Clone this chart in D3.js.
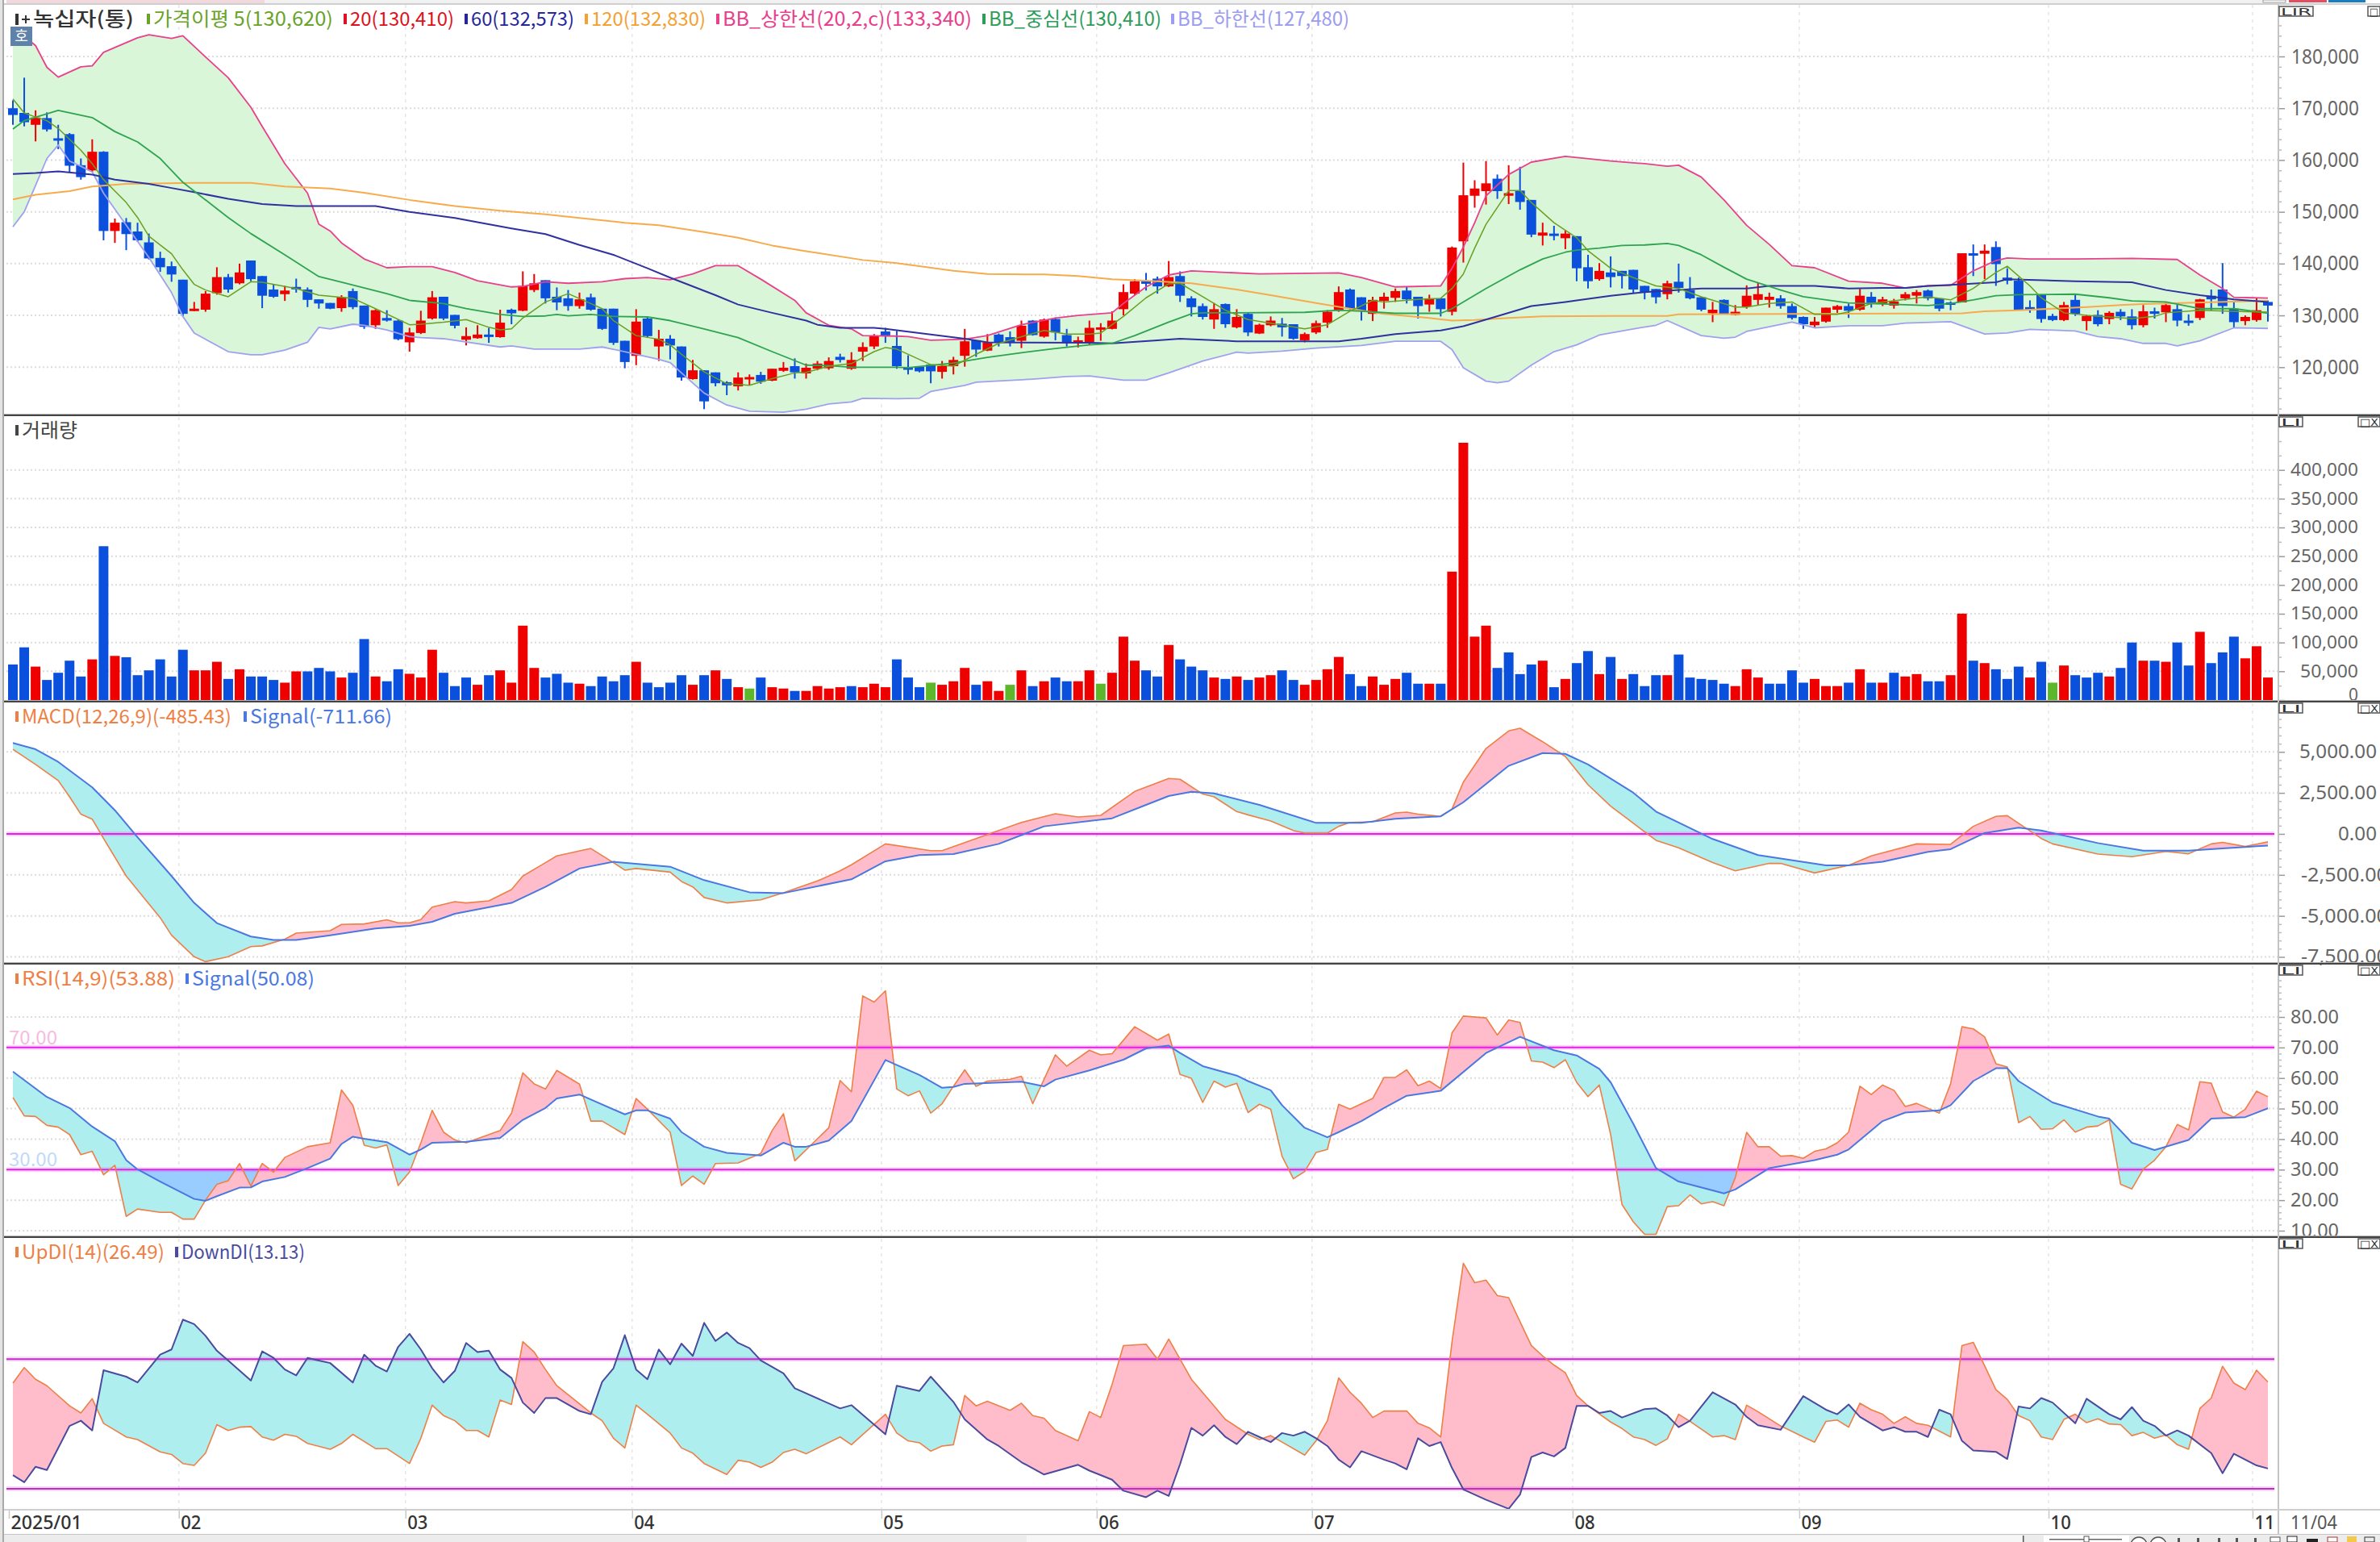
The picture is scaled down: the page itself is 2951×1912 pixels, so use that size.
<!DOCTYPE html>
<html>
<head>
<meta charset="utf-8">
<script src="https://cdnjs.cloudflare.com/ajax/libs/d3/7.8.5/d3.min.js"></script>
<style>
  html, body { margin: 0; padding: 0; background: #fff; overflow: hidden; }
  svg { display: block; }
  text { font-family: "Noto Sans CJK KR", "Noto Sans", sans-serif; }
</style>
</head>
<body>
<svg id="chart" width="2951" height="1912"></svg>
<script>
// candles, one value per trading day
const opens = [
  170000,169100,166800,168100,164200,165000,159000,158000,161600,146300,
  148000,146200,144100,141100,139500,136900,130900,131100,134300,137400,
  136200,140600,137600,135000,134100,135500,135000,133100,132400,131400,
  134700,131900,128100,129500,129000,124800,126600,129400,133600,130100,
  125300,125600,126300,125800,131100,130900,134900,136800,133600,133300,
  131800,133500,131300,131300,125100,122200,129400,124000,125500,124000,
  117700,119400,119000,117100,116300,118000,118500,117400,119300,120200,
  118800,119700,119800,122000,119700,123000,124000,126900,124100,120000,
  120100,120500,119100,120200,122200,125200,123200,126300,125800,125100,
  129000,125900,129300,126200,124700,124800,127500,127400,131200,134200,
  136600,137100,135600,137600,133300,131800,129200,132200,127700,130300,
  126500,128100,128400,128300,125200,126700,128600,130900,135000,133500,
  130300,132800,133400,134800,133600,132100,133300,130700,144300,153100,
  154000,156400,153100,154100,152300,145400,145800,144900,145300,139300,
  137000,138300,138600,138800,135700,135100,134100,136500,134900,133500,
  130400,133000,130100,131700,133000,133000,133300,131800,129700,128100,
  128800,131100,131800,131100,133600,132300,131900,133300,133800,134800,
  133300,132500,132500,142000,141900,143200,137300,136700,131600,134000,
  129900,129100,133000,128900,130100,129300,130700,129800,128100,130800,
  130600,131200,129000,129500,133800,135000,131300,128900,129100,132600];
const closes = [
  168700,167300,168200,165900,163800,158900,156700,161600,146300,147900,
  145700,144500,141000,139300,137900,130300,131300,134200,137400,135000,
  138300,137000,133800,133600,134800,135100,133000,132300,131300,133500,
  131600,127800,131000,129000,125400,126700,129000,133500,129400,128000,
  126000,126300,125900,128600,130400,135700,136200,133300,132500,131800,
  133100,131100,127400,124700,121000,128800,126000,125500,124200,118000,
  119400,113400,116900,116500,118000,118100,117200,119700,119900,119000,
  119900,120700,121200,121400,121400,123900,126100,126100,120200,119500,
  119200,119200,120200,121400,125000,123400,124800,124800,124800,128000,
  126200,129200,126700,124700,125200,127600,127700,129000,134500,136600,
  136100,135600,137400,133800,131600,129700,131200,128300,129700,126700,
  128200,129000,127700,125500,126400,128500,130700,134500,131300,130800,
  133000,133600,134700,133100,131800,133300,131200,143100,153200,154500,
  155500,154000,153600,151900,145600,146000,145400,145800,139100,136600,
  138600,137400,137600,135000,134500,133500,136200,135300,133300,131100,
  131100,130300,130700,133800,134100,133600,131800,129500,128300,128800,
  131500,131800,130900,133800,132400,133100,132700,134100,134500,133300,
  131300,132100,142000,141600,142500,139900,136700,131000,131100,129300,
  129100,132000,130300,129900,128300,130500,129800,128100,130800,130300,
  132000,129000,128700,133100,133100,131800,128700,129700,131000,131900];
const highs = [
  171500,175900,169600,169200,166800,165200,160300,164000,161700,148700,
  148800,147900,145800,142300,140400,136900,132600,134700,139300,138000,
  140000,140600,137600,136000,135700,137100,135400,133100,132400,133900,
  135200,131900,131200,131000,129200,127600,130900,134700,133600,130100,
  127700,128100,127600,131100,131300,138500,138000,136800,135400,134900,
  134400,134200,131300,131300,125100,131200,129600,127200,126200,124000,
  121400,119400,119000,117300,119000,118600,119100,119700,121000,121700,
  120700,121200,121900,122600,122900,124800,126400,127600,127000,122300,
  120100,120500,121200,122000,127400,125200,126400,126500,126900,129000,
  129100,129400,129600,127400,125900,129000,128500,130800,136000,137000,
  138200,137500,140500,138500,133700,132300,132400,132300,131200,130500,
  128400,129800,129500,128300,126700,129000,131000,135600,135200,133500,
  133600,134400,135200,135500,133600,134000,133300,143300,159500,156100,
  159800,157200,159000,158700,152300,147900,147300,146400,145300,141700,
  140100,141400,138600,138800,135700,135100,136700,140000,137400,133500,
  132600,133100,132000,135800,136300,134400,133900,132300,129800,129700,
  131500,132000,132300,135100,134500,133600,133200,134500,134900,135000,
  133300,132700,142000,143700,143700,144300,139100,137300,132900,134000,
  130300,132600,134000,130100,131000,130800,131200,131200,132000,131500,
  132500,132100,130200,133200,135000,140100,132600,130000,133400,132900];
const lows = [
  166800,166500,163600,165500,162100,157700,156200,157700,144500,144000,
  142600,144200,140800,138400,136500,129800,130800,130700,134000,134400,
  136000,136600,131400,133400,132800,134400,131600,131300,131200,130700,
  131200,127400,127400,128800,125200,123000,126400,129200,129100,127500,
  124200,125500,124700,125700,128300,130800,134500,132300,131000,130900,
  131300,130900,127200,124300,119800,120400,125700,121200,121500,117400,
  117600,111900,116300,114600,115500,116500,116800,117300,119100,117800,
  117800,119400,119500,120900,119500,121200,123500,124700,119700,118600,
  119000,116900,117800,118600,120100,122000,123100,124000,124000,123700,
  126100,125700,125200,124000,123800,124300,125100,127300,130000,133900,
  134800,134200,135500,132600,129800,129200,127400,127600,127500,126000,
  126400,127900,125900,125300,124800,126400,127600,130700,131000,129000,
  128900,131300,132600,132300,129400,130700,129800,130000,140200,150800,
  151400,152500,151500,150400,145100,143500,144500,142800,136600,135200,
  136700,135400,135200,134300,133100,132300,133100,134400,133100,130800,
  128700,130200,130000,131300,132000,131500,131300,129200,127400,127600,
  128600,130500,129500,130900,131500,131800,131300,132900,132300,132900,
  130800,131000,132500,137600,137000,135700,136000,131000,130500,128600,
  128900,128900,129900,127100,127900,128300,129100,127300,127700,129400,
  128700,127900,128000,129100,131000,130300,127600,128100,128800,128800];

// volume per day, and its direction code (1 up, -1 down, 0 flat)
const volumes = [
  61800,91600,58100,34900,47400,68400,40900,70700,267400,76700,
  74400,43200,51600,70700,40900,87400,51600,51600,66500,36700,
  53500,40900,40900,34900,30200,49800,49800,55800,49800,39100,
  47400,106000,40900,32600,53500,45600,39100,87400,47400,24200,
  39100,26500,43200,51600,30200,129300,55800,39100,45600,30200,
  28400,24200,40900,32600,43200,66500,30200,22300,30200,43200,
  26500,43200,51600,36700,22300,20000,39100,22300,20000,15800,
  15800,24200,20000,22300,24200,22300,28400,22300,70700,39100,
  22300,30200,26500,32600,55800,26500,32600,15800,26500,51600,
  24200,32600,39100,32600,32600,51600,28400,47400,110200,68400,
  51600,40900,95800,70700,58100,51600,39100,36700,40900,34900,
  39100,43200,51600,34900,26500,34900,53500,74900,45100,24200,
  40900,26500,36700,47400,28400,28400,28400,223200,447300,110200,
  129300,55800,82800,45100,61800,68400,22300,36700,64200,85100,
  45100,74900,36700,45100,24200,43200,43200,79100,39100,36700,
  34900,28400,24200,53500,39100,28400,28400,51600,30200,36700,
  24200,24200,30200,53500,30200,30200,47400,40900,45100,32600,
  32600,43200,150200,68400,64200,53500,36700,58100,39100,66500,
  30200,60000,43200,39100,47400,40900,55800,100000,68400,68400,
  66500,100000,60000,118600,64200,82800,110200,72500,93500,39100];
const volumeMoves = [
  -1,-1,1,-1,-1,-1,-1,1,-1,1,  -1,-1,-1,-1,-1,-1,1,1,1,-1,
  1,-1,-1,-1,1,1,-1,-1,-1,1,  -1,-1,1,-1,-1,1,1,1,-1,-1,
  -1,1,-1,1,1,1,1,-1,-1,-1,  1,-1,-1,-1,-1,1,-1,-1,-1,-1,
  1,-1,1,-1,1,0,-1,1,1,-1,  1,1,1,1,-1,1,1,1,-1,-1,
  -1,0,1,1,1,-1,1,1,0,1,  -1,1,-1,-1,1,1,0,1,1,1,
  -1,-1,1,-1,-1,-1,1,-1,1,-1,  1,1,-1,-1,1,1,1,1,-1,-1,
  1,1,1,-1,-1,1,-1,1,1,1,  1,-1,-1,-1,-1,1,-1,1,-1,-1,
  1,-1,1,-1,-1,-1,1,-1,-1,-1,  -1,-1,1,1,1,-1,-1,-1,-1,1,
  1,1,-1,1,-1,1,-1,1,1,-1,  -1,1,1,-1,1,-1,-1,-1,1,-1,
  0,1,-1,-1,-1,1,-1,-1,1,-1,  1,-1,-1,1,-1,-1,-1,1,1,1];

// line series as [bar, value], vertices
const bbUpper = [[0,185400],[1,183900],[2,182100],[3,177900],[4,176000],[6,178000],[7,178200],[8,180800],[11,183600],[12,184200],[14,183500],[15,184000],[17,179900],[19,175900],[21,170200],[22,166500],[24,159300],[26,153600],[27,147600],[28,146300],[29,144000],[31,140900],[33,139200],[35,139400],[37,139400],[39,138300],[41,136700],[44,135500],[45,135600],[47,136500],[49,136200],[52,136500],[54,137100],[56,137300],[58,136900],[60,138000],[62,139600],[64,139600],[66,137000],[69,132900],[70,130500],[72,128100],[74,127400],[75,126100],[78,126000],[79,125900],[81,125200],[84,125400],[86,126100],[89,128200],[92,129500],[94,130000],[97,130500],[98,132300],[100,135500],[102,137800],[104,138600],[110,138000],[117,138200],[119,137300],[122,135500],[126,135700],[127,139100],[128,143200],[129,147900],[130,153100],[132,157200],[134,159600],[137,160700],[141,159800],[144,159300],[146,158800],[147,159000],[149,156700],[151,152300],[153,147400],[155,143700],[157,139600],[159,139200],[162,136600],[165,136200],[167,135300],[169,135700],[171,135800],[173,138600],[175,140600],[176,141100],[178,140900],[182,140900],[187,141000],[191,140800],[193,137800],[195,135200],[196,133500],[199,133340]];
const bbMiddle = [[0,166000],[1,167600],[4,169600],[5,169100],[7,168200],[9,165500],[11,163500],[13,160300],[15,155700],[19,148900],[21,145800],[24,141700],[27,137500],[29,136400],[33,134200],[35,132900],[38,132300],[40,131300],[43,130200],[45,129800],[47,129900],[48,130200],[49,129900],[51,130200],[53,129800],[56,129700],[58,129000],[61,127400],[64,125700],[67,123000],[70,120400],[72,120300],[74,120000],[78,120000],[79,119900],[83,120800],[86,121900],[89,122800],[92,123600],[95,124300],[97,124600],[99,126100],[102,128700],[104,130300],[105,130500],[108,130500],[114,130600],[117,131000],[119,130800],[122,130400],[126,130400],[127,131300],[130,135200],[133,138800],[135,140900],[137,142200],[138,142600],[140,143000],[142,143500],[144,143600],[146,143900],[147,143500],[149,141700],[151,139300],[153,137000],[156,134900],[158,133600],[162,132400],[165,132200],[169,131900],[171,132300],[173,133000],[175,133800],[177,134000],[182,134100],[185,133400],[187,132800],[190,132600],[193,131300],[196,131300],[199,130410]];
const bbLower = [[0,147100],[1,150000],[2,155100],[3,160300],[4,162900],[5,159800],[6,158800],[7,157700],[8,153600],[10,147400],[12,141200],[14,134400],[15,129800],[16,126600],[19,123000],[21,122400],[22,122400],[24,123300],[26,124800],[27,127700],[28,127400],[30,128300],[31,128100],[33,127200],[35,125900],[36,125700],[38,125500],[43,123900],[44,124100],[46,123500],[50,123500],[52,123900],[54,123000],[57,121500],[58,120900],[59,118900],[61,115000],[63,112700],[65,111500],[68,111300],[70,111900],[72,112900],[74,113300],[75,114000],[78,113900],[80,114000],[81,115300],[84,116500],[85,117100],[90,117700],[93,118200],[95,118300],[98,117500],[100,117500],[102,118900],[105,121200],[108,122900],[109,122700],[112,123100],[115,123700],[119,124200],[122,125000],[126,125000],[127,123400],[128,119900],[130,117300],[131,117000],[132,117300],[134,120400],[136,123000],[138,124300],[140,126200],[143,127400],[145,128100],[146,129000],[149,126100],[151,125600],[152,125800],[153,126900],[157,128700],[159,127600],[162,128000],[165,128000],[167,128500],[171,128800],[174,126400],[176,126600],[178,127300],[182,127000],[184,125900],[186,125500],[188,124600],[190,124600],[191,124100],[193,125100],[196,127600],[199,127480]];
const ma5 = [[0,171800],[1,169100],[2,168300],[3,167600],[4,166100],[6,161900],[7,159300],[8,156200],[10,151800],[11,148900],[12,145300],[14,141900],[15,138800],[16,136000],[17,134900],[19,133600],[21,136500],[22,136400],[25,135200],[27,133900],[30,133300],[32,131300],[35,128200],[36,128300],[38,128700],[40,129200],[42,127700],[43,127200],[44,127400],[45,129500],[47,132600],[49,134200],[51,132300],[52,131300],[53,129000],[55,126100],[57,125400],[58,124300],[59,122500],[61,119100],[63,116800],[65,116500],[67,117800],[69,118900],[70,119000],[72,120200],[74,120700],[76,123000],[77,123800],[78,123500],[81,120500],[83,120200],[85,122500],[87,124600],[89,125900],[91,127100],[93,126400],[95,126400],[96,126600],[98,129800],[100,133400],[102,136100],[103,136200],[105,133600],[107,131000],[109,129200],[111,128500],[114,127400],[116,128200],[118,130800],[120,132900],[121,132600],[124,133100],[126,133300],[127,135200],[128,138000],[129,143000],[130,147600],[132,154100],[133,154100],[134,151800],[136,147900],[138,145000],[139,142500],[141,139100],[143,137300],[145,135700],[147,135200],[149,133600],[152,131600],[153,131600],[155,132300],[157,132600],[159,130200],[161,130200],[162,130700],[164,132300],[167,133100],[169,133600],[171,133000],[173,135200],[175,138300],[176,139500],[178,135700],[179,133400],[181,130500],[183,130000],[187,129400],[189,129800],[190,130500],[193,131000],[196,130800],[199,130620]];
const ma60 = [[0,157300],[2,157500],[4,157800],[7,157200],[9,156200],[12,155400],[14,154600],[16,153800],[19,152500],[22,151500],[25,151100],[32,151100],[35,150000],[39,148800],[41,148000],[44,146800],[47,145700],[50,143600],[53,141700],[56,139100],[58,137300],[62,133900],[64,132100],[67,130500],[70,129000],[71,128200],[73,127600],[76,127600],[77,127400],[80,126600],[84,125500],[86,124800],[95,124700],[97,124600],[101,125200],[103,125500],[108,125000],[117,125000],[119,125500],[122,126400],[126,127100],[128,127900],[130,129200],[134,131800],[137,132600],[138,132900],[141,133800],[144,134500],[149,135200],[153,135200],[155,135700],[159,135700],[162,135200],[165,135300],[167,135300],[169,135700],[171,135900],[175,136400],[176,137000],[182,136600],[187,136400],[190,134900],[193,133900],[196,133100],[199,132573]];
const ma120 = [[0,152400],[2,153300],[5,154000],[7,154900],[10,155400],[16,155600],[21,155600],[24,154900],[28,154500],[31,153700],[35,152300],[39,151100],[43,150200],[47,149500],[50,148800],[54,147900],[57,147400],[61,146100],[64,145000],[67,143500],[70,142400],[75,140700],[78,140100],[83,138600],[86,138000],[91,137900],[94,137600],[97,137000],[100,136700],[104,136200],[108,135000],[111,133900],[115,132400],[118,131300],[121,130300],[125,129500],[127,129000],[129,129100],[132,129500],[135,129800],[141,129900],[146,129900],[147,130200],[172,130400],[174,130800],[177,131000],[183,131600],[186,132000],[188,132200],[199,132830]];
const macd = [[0,5160],[2,4230],[4,3250],[5,2260],[6,1200],[7,900],[8,-280],[10,-2570],[13,-5110],[14,-6180],[16,-7490],[17,-7790],[19,-7490],[21,-6870],[22,-6830],[24,-6420],[25,-6050],[28,-5900],[29,-5520],[31,-5490],[33,-5240],[34,-5420],[35,-5420],[36,-5230],[37,-4460],[39,-4130],[40,-4210],[42,-4080],[44,-3390],[45,-2570],[47,-1750],[48,-1340],[51,-890],[53,-1750],[54,-2210],[55,-2110],[58,-2330],[59,-2900],[60,-3230],[61,-3880],[63,-4210],[66,-4020],[68,-3590],[71,-2870],[73,-2250],[74,-1880],[77,-610],[81,-1020],[82,-1020],[85,-280],[89,700],[92,1230],[94,1030],[96,1130],[99,2590],[102,3380],[103,3330],[105,2430],[106,2260],[108,1360],[109,1160],[111,790],[113,210],[114,50],[116,50],[117,460],[118,700],[120,740],[122,1280],[123,1330],[124,1200],[126,1070],[127,1520],[128,3160],[130,5210],[132,6280],[133,6440],[135,5620],[137,4720],[139,3000],[141,1690],[145,-390],[147,-850],[150,-1750],[152,-2250],[155,-1800],[156,-1800],[159,-2380],[162,-1920],[164,-1340],[168,-610],[171,-640],[173,460],[175,1070],[176,1110],[179,-280],[180,-610],[184,-1230],[187,-1390],[190,-1070],[192,-1210],[194,-610],[195,-520],[197,-770],[199,-485]];
const macdSignal = [[0,5540],[2,5160],[4,4390],[7,2840],[9,1440],[11,-200],[14,-2570],[16,-4210],[18,-5440],[21,-6260],[23,-6470],[25,-6470],[28,-6180],[32,-5770],[35,-5610],[37,-5360],[39,-4870],[44,-4210],[47,-3230],[50,-2110],[53,-1700],[58,-2000],[61,-2820],[65,-3560],[68,-3610],[74,-2770],[77,-1670],[80,-1290],[83,-1230],[87,-610],[91,460],[97,950],[100,1770],[102,2310],[104,2570],[106,2470],[110,1770],[115,670],[119,670],[122,920],[126,1070],[128,1930],[132,4150],[135,4930],[137,4880],[139,4230],[143,2510],[145,1360],[150,-310],[154,-1290],[160,-1920],[162,-1920],[165,-1700],[169,-1100],[171,-930],[174,50],[177,380],[179,210],[184,-560],[188,-1020],[192,-1020],[195,-890],[199,-712]];
const rsi = [[0,53.6],[1,47.6],[2,47.4],[3,44.5],[4,43.9],[5,41.5],[6,34.9],[7,36.0],[8,28.3],[9,31.4],[10,14.7],[11,17.1],[13,16.0],[14,16.0],[15,13.8],[16,13.8],[17,20.0],[18,25.2],[19,26.4],[20,32.0],[21,24.6],[22,32.0],[23,29.2],[24,34.0],[26,37.5],[28,38.8],[29,56.1],[30,51.1],[31,38.0],[32,37.1],[33,38.1],[34,24.8],[35,29.2],[36,38.8],[37,49.4],[38,42.3],[39,39.7],[40,38.8],[43,42.8],[44,48.5],[45,61.7],[46,58.1],[47,56.4],[48,62.5],[50,58.0],[51,45.9],[52,45.9],[54,41.5],[55,53.3],[56,49.8],[58,42.3],[59,24.8],[60,27.9],[61,25.2],[62,32.0],[64,32.2],[66,35.3],[67,42.8],[68,48.3],[69,32.9],[71,40.1],[72,43.7],[73,59.2],[74,55.5],[75,86.9],[76,84.9],[77,88.6],[78,56.4],[79,54.2],[80,55.8],[81,48.5],[82,51.6],[83,57.3],[84,62.7],[85,57.3],[86,59.0],[88,59.6],[89,60.6],[90,51.6],[92,67.6],[93,63.9],[95,69.1],[96,67.6],[97,68.0],[99,76.8],[101,72.4],[102,74.4],[103,61.2],[104,59.9],[105,52.0],[106,59.0],[107,57.0],[108,58.3],[109,48.7],[110,51.4],[111,49.8],[112,34.4],[113,27.0],[114,29.4],[115,35.6],[116,36.6],[117,51.4],[118,49.8],[120,53.3],[121,60.2],[122,60.2],[123,62.7],[124,57.5],[125,59.0],[126,56.6],[127,74.8],[128,80.3],[130,79.7],[131,74.1],[132,79.0],[133,78.2],[134,65.6],[135,65.2],[136,63.4],[137,66.0],[138,58.6],[139,53.9],[140,57.7],[141,41.5],[142,18.6],[143,12.9],[144,8.8],[145,8.8],[146,17.9],[147,18.2],[148,21.7],[149,18.8],[150,19.5],[151,18.2],[152,27.4],[153,42.2],[154,37.5],[155,37.5],[156,34.4],[157,34.6],[158,33.7],[159,36.0],[160,36.8],[161,38.8],[162,42.3],[163,57.3],[164,54.6],[165,57.7],[166,56.0],[167,50.7],[168,51.7],[170,48.5],[171,58.1],[172,76.8],[173,76.1],[174,73.5],[175,64.7],[176,63.6],[177,45.4],[178,47.4],[179,43.2],[180,43.4],[181,46.3],[182,42.3],[183,43.9],[184,44.3],[185,46.3],[186,25.2],[187,23.7],[188,30.1],[189,33.1],[190,37.5],[191,44.8],[192,43.0],[193,58.8],[194,58.3],[195,48.9],[196,47.2],[197,49.8],[198,55.7],[199,53.88]];
const rsiSignal = [[0,62.1],[3,53.8],[5,50.2],[7,44.1],[9,39.3],[10,33.1],[11,30.1],[13,26.1],[16,20.4],[17,19.8],[18,21.3],[20,24.1],[21,24.2],[22,26.1],[24,27.6],[26,30.5],[28,33.6],[29,38.4],[30,40.8],[31,40.1],[33,39.0],[35,34.9],[36,36.6],[37,38.8],[40,39.1],[43,40.4],[45,46.3],[47,50.2],[48,53.3],[50,54.6],[54,48.1],[55,49.4],[56,49.4],[58,46.7],[59,42.3],[61,37.5],[63,35.5],[66,34.6],[68,38.8],[69,37.5],[70,37.5],[72,39.5],[74,45.9],[77,65.9],[80,61.0],[82,56.8],[83,57.1],[84,58.1],[89,58.8],[91,57.3],[92,59.5],[95,62.5],[98,66.0],[100,69.7],[102,70.6],[103,68.2],[105,63.9],[108,60.8],[109,59.0],[111,56.0],[112,51.1],[114,43.7],[116,40.6],[117,42.3],[119,45.9],[121,50.2],[123,54.2],[126,55.8],[130,68.2],[133,73.5],[136,69.1],[138,67.4],[140,63.0],[141,58.6],[143,45.0],[145,30.5],[147,26.1],[151,22.2],[152,23.5],[155,30.5],[159,33.1],[161,34.9],[162,36.6],[165,45.9],[167,48.7],[170,49.4],[171,51.1],[173,59.0],[175,63.2],[176,63.2],[177,59.0],[180,52.0],[184,47.4],[185,46.7],[187,38.8],[189,36.4],[192,39.7],[194,46.7],[197,47.2],[199,50.08]];
const upDI = [[0,26.3],[1,28.7],[2,26.9],[3,25.9],[5,22.8],[6,21.7],[7,23.9],[8,20.1],[10,18.0],[11,17.6],[13,15.7],[14,15.3],[15,13.9],[16,13.6],[17,15.5],[18,19.9],[19,19.0],[20,19.5],[21,19.6],[22,18.0],[23,17.5],[24,18.4],[25,18.1],[26,17.0],[28,16.1],[29,17.0],[30,18.4],[32,16.2],[33,16.2],[35,13.9],[36,17.8],[37,22.9],[38,21.3],[39,20.5],[40,19.0],[41,19.0],[42,18.0],[43,23.7],[44,23.0],[45,32.7],[46,31.1],[47,28.4],[48,25.9],[51,21.7],[52,20.5],[53,17.8],[54,16.3],[55,22.9],[56,21.5],[58,18.6],[59,16.3],[60,15.5],[61,13.9],[63,12.2],[64,14.4],[65,14.1],[66,13.3],[67,14.1],[68,15.6],[69,16.1],[70,15.4],[73,18.0],[74,16.8],[77,21.5],[78,18.6],[79,17.4],[80,17.1],[81,15.8],[82,16.6],[83,16.8],[84,24.4],[85,22.8],[86,23.5],[88,22.1],[89,23.2],[90,21.3],[91,20.9],[92,19.0],[94,17.4],[95,21.9],[96,21.0],[97,26.1],[98,32.1],[100,32.3],[101,30.0],[102,33.1],[104,26.9],[106,22.8],[107,20.7],[109,18.4],[110,17.6],[111,18.2],[112,17.2],[114,15.2],[115,17.4],[116,20.5],[117,27.1],[118,24.9],[119,23.2],[120,21.0],[121,22.0],[123,22.0],[124,20.1],[125,19.4],[126,18.0],[127,32.7],[128,44.8],[129,41.8],[130,42.2],[131,39.8],[132,39.5],[134,32.1],[135,30.5],[136,29.1],[137,27.9],[138,24.4],[139,22.8],[141,20.3],[142,19.3],[143,18.0],[144,17.6],[145,16.7],[146,17.7],[147,21.5],[148,20.4],[150,18.0],[151,18.2],[152,17.6],[153,22.9],[154,21.9],[156,19.7],[158,18.0],[159,17.2],[160,20.4],[161,20.6],[162,19.5],[163,23.2],[164,22.2],[165,21.5],[166,20.1],[167,21.1],[168,20.1],[169,19.8],[171,18.0],[172,32.1],[173,32.6],[174,29.0],[175,25.3],[176,23.8],[177,21.3],[178,20.5],[179,18.0],[180,17.6],[181,20.7],[182,21.5],[183,20.2],[184,20.8],[185,20.0],[186,19.9],[187,18.2],[188,18.7],[189,17.8],[190,18.3],[191,16.8],[192,16.1],[193,22.4],[194,24.0],[195,28.9],[196,26.3],[197,25.3],[198,28.3],[199,26.49]];
const downDI = [[0,12.1],[1,11.0],[2,13.4],[3,12.9],[5,19.7],[6,20.5],[7,19.0],[8,28.3],[10,27.3],[11,26.4],[13,30.7],[14,31.5],[15,36.1],[16,35.4],[17,33.6],[18,31.3],[19,29.8],[21,26.7],[22,31.2],[23,30.2],[24,28.4],[25,27.5],[26,30.2],[27,29.8],[28,29.4],[30,26.4],[31,30.7],[32,29.0],[33,28.1],[34,31.9],[35,33.9],[36,31.5],[37,28.6],[38,26.4],[39,28.2],[40,32.5],[41,31.1],[42,31.3],[43,28.4],[44,27.1],[45,23.3],[46,21.7],[47,24.0],[48,24.0],[50,22.0],[51,21.5],[52,26.5],[53,28.6],[54,33.7],[55,28.4],[56,26.9],[57,31.5],[58,29.2],[59,32.4],[60,30.5],[61,35.6],[62,32.8],[63,34.1],[64,32.5],[65,31.7],[66,29.8],[68,27.8],[69,25.5],[73,22.4],[74,22.9],[77,18.4],[78,25.9],[80,25.1],[81,27.3],[83,23.4],[84,20.7],[86,17.6],[87,16.6],[89,14.1],[91,12.2],[94,13.7],[95,12.8],[97,11.4],[98,9.7],[100,8.7],[101,9.7],[102,8.9],[103,13.8],[104,19.4],[105,18.2],[106,19.8],[107,18.0],[108,16.9],[109,18.8],[110,18.0],[111,17.2],[112,18.6],[113,18.2],[114,18.8],[115,17.8],[116,16.6],[117,14.5],[118,13.3],[119,15.8],[121,14.5],[122,13.9],[123,13.0],[124,17.8],[125,16.6],[126,17.2],[127,13.2],[128,9.9],[130,8.3],[132,6.9],[133,9.1],[134,14.9],[135,15.6],[136,15.0],[137,16.3],[138,22.8],[139,22.8],[140,21.7],[141,22.0],[142,21.0],[144,22.3],[145,22.4],[146,21.3],[147,19.5],[148,20.5],[150,24.9],[152,23.0],[153,21.1],[154,19.8],[156,19.1],[158,24.3],[160,22.2],[161,21.5],[162,23.0],[163,21.1],[165,19.0],[166,19.5],[167,18.8],[168,18.8],[169,18.0],[170,22.2],[171,21.5],[172,17.4],[173,15.9],[175,15.7],[176,14.6],[177,22.7],[178,22.4],[179,24.0],[180,23.3],[182,20.1],[183,23.9],[185,21.5],[186,20.7],[187,22.6],[188,20.5],[189,19.7],[190,18.2],[191,19.0],[192,18.2],[194,15.5],[195,12.4],[196,15.4],[198,13.6],[199,13.13]];

// axis values
const priceTicks = [120000,130000,140000,150000,160000,170000,180000];
const volumeTicks = [0,50000,100000,150000,200000,250000,300000,350000,400000];
const macdTicks = [-7500,-5000,-2500,0,2500,5000];
const rsiTicks = [10,20,30,40,50,60,70,80];
const monthBars = [0,15,35,55,77,96,115,138,158,180,198];
const monthLabels = ["2025/01","02","03","04","05","06","07","08","09","10","11"];

const colors = {
  up: "#ee0000", down: "#0a50dc", flat: "#5cb82a",
  band: "#d9f6d9", bbUpper: "#e8408c", bbMiddle: "#2ea44f", bbLower: "#a0a0f0",
  ma5: "#6a9f20", ma60: "#30309e", ma120: "#f6ab4c",
  pos: "#ffbccb", neg: "#afeeee", wedge: "#99ccff",
  orange: "#ee7f45", blue: "#4a78e0", navy: "#4a4a9e",
  magenta: "#e81ee8", magentaDark: "#c42cc8",
  grid: "#dcdcdc", label: "#666666"
};

const svg = d3.select("#chart");
const plotRight = 2825;

const x = d3.scaleLinear().domain([0, 199]).range([16, 2812]);
const timeX = d3.scaleLinear().domain([0, 199]).range([11, 2807]);

const panels = {
  price:  {top: 6,    bottom: 515,  y: d3.scaleLinear().domain([120000, 180000]).range([455.3, 70])},
  volume: {top: 517,  bottom: 870,  y: d3.scaleLinear().domain([0, 400000]).range([868, 582.7])},
  macd:   {top: 872,  bottom: 1195, y: d3.scaleLinear().domain([-7500, 5000]).range([1186.5, 932.3])},
  rsi:    {top: 1197, bottom: 1534, y: d3.scaleLinear().domain([10, 80]).range([1526, 1261])},
  di:     {top: 1536, bottom: 1872, y: d3.scaleLinear().domain([10, 30]).range([1846, 1685.3])}
};

// window chrome under everything
svg.append("rect").attr("width", 2951).attr("height", 1912).attr("fill", "#fff");
svg.append("rect").attr("x", 8).attr("y", 0).attr("width", 320).attr("height", 4).attr("fill", "#f0d8dc");
svg.append("rect").attr("x", 328).attr("y", 0).attr("width", 2478).attr("height", 4).attr("fill", "#f1f1f1");
svg.append("rect").attr("x", 0).attr("y", 4).attr("width", 2951).attr("height", 2).attr("fill", "#cfcfcf");
svg.append("rect").attr("x", 0).attr("y", 0).attr("width", 3).attr("height", 1912).attr("fill", "#e4e4e4");
svg.append("rect").attr("x", 3).attr("y", 0).attr("width", 2).attr("height", 1912).attr("fill", "#a9a9a9");

Object.keys(panels).forEach(function(name) {
  const p = panels[name];
  svg.append("clipPath").attr("id", "clip-" + name)
    .append("rect").attr("x", 8).attr("y", p.top)
    .attr("width", plotRight - 8).attr("height", p.bottom - p.top);
  p.g = svg.append("g").attr("clip-path", "url(#clip-" + name + ")");
});

function drawGrid(p, ticks) {
  p.g.selectAll(".hgrid").data(ticks).enter().append("line")
    .attr("class", "hgrid")
    .attr("x1", 8).attr("x2", plotRight)
    .attr("y1", d => p.y(d)).attr("y2", d => p.y(d))
    .attr("stroke", colors.grid).attr("stroke-width", 2).attr("stroke-dasharray", "2,3");
}

function drawMonthGrid(p) {
  p.g.selectAll(".vgrid").data(monthBars.slice(1)).enter().append("line")
    .attr("class", "vgrid")
    .attr("x1", d => timeX(d)).attr("x2", d => timeX(d))
    .attr("y1", p.top).attr("y2", p.bottom)
    .attr("stroke", "#e6e6e6").attr("stroke-width", 1.5).attr("stroke-dasharray", "4,5");
}

function lineFor(p) {
  return d3.line().x(d => x(d[0])).y(d => p.y(d[1]));
}

function drawLine(p, data, color, width) {
  p.g.append("path")
    .attr("d", lineFor(p)(data))
    .attr("fill", "none").attr("stroke", color)
    .attr("stroke-width", width).attr("stroke-linejoin", "round");
}

function levelLine(p, value, color) {
  p.g.append("line").attr("x1", 8).attr("x2", 2820)
    .attr("y1", p.y(value)).attr("y2", p.y(value))
    .attr("stroke", color).attr("stroke-opacity", 0.18).attr("stroke-width", 6);
  p.g.append("line").attr("x1", 8).attr("x2", 2820)
    .attr("y1", p.y(value)).attr("y2", p.y(value))
    .attr("stroke", color).attr("stroke-width", 2);
}

// pink where a is above b, cyan where it is under
function diffFill(name, a, b) {
  const p = panels[name];
  const line = lineFor(p);
  const x0 = x(b[0][0]), x1 = x(b[b.length - 1][0]);
  const bPath = line(b).replace(/^M/, "L");
  const above = "M" + x0 + "," + p.top + bPath + "L" + x1 + "," + p.top + "Z";
  const below = "M" + x0 + "," + p.bottom + bPath + "L" + x1 + "," + p.bottom + "Z";
  svg.append("clipPath").attr("id", name + "-above").append("path").attr("d", above);
  svg.append("clipPath").attr("id", name + "-below").append("path").attr("d", below);

  const between = line(a.concat(b.slice().reverse())) + "Z";
  p.g.append("g").attr("clip-path", "url(#" + name + "-above)")
    .append("path").attr("d", between).attr("fill", colors.pos);
  p.g.append("g").attr("clip-path", "url(#" + name + "-below)")
    .append("path").attr("d", between).attr("fill", colors.neg);
}

function valueAxis(p, ticks, minorStep, format, fontSize, place) {
  const minor = d3.range(p.y.domain()[0] - minorStep * 10, p.y.domain()[1] + minorStep * 10, minorStep)
    .filter(d => p.y(d) > p.top + 2 && p.y(d) < p.bottom - 2 && ticks.indexOf(d) < 0);
  svg.append("g").attr("transform", "translate(" + plotRight + ",0)")
    .call(d3.axisRight(p.y).tickValues(minor).tickSize(4).tickFormat(""))
    .call(g => g.select(".domain").remove())
    .call(g => g.selectAll("line").attr("stroke", "#bdbdbd").attr("stroke-width", 1.5));
  const axis = svg.append("g").attr("transform", "translate(" + plotRight + ",0)")
    .call(d3.axisRight(p.y).tickValues(ticks).tickSize(8).tickFormat(format))
    .call(g => g.select(".domain").remove())
    .call(g => g.selectAll("line").attr("stroke", "#9a9a9a").attr("stroke-width", 1.5));
  axis.selectAll("text")
    .attr("fill", colors.label).style("font-family", '"Noto Sans", sans-serif')
    .style("font-size", fontSize + "px")
    .attr("lengthAdjust", "spacingAndGlyphs")
    .attr("textLength", function() { return this.textContent.length * 12; })
    .each(place);
}

function legend(x0, x1, y, mark, text, color, weight) {
  if (mark) {
    svg.append("rect").attr("x", x0 - 8).attr("y", y - 7).attr("width", 4).attr("height", 13).attr("fill", mark);
  }
  svg.append("text").attr("x", x0).attr("y", y).attr("dy", "0.35em")
    .attr("textLength", x1 - x0).attr("lengthAdjust", "spacingAndGlyphs")
    .style("font-size", "24px").style("font-weight", weight || 400)
    .attr("fill", color).text(text);
}

function smallButton(x0, y0, w, h, label) {
  svg.append("rect").attr("x", x0).attr("y", y0).attr("width", w).attr("height", h)
    .attr("fill", "#fff").attr("stroke", "#555").attr("stroke-width", 1.5);
  svg.append("text").attr("x", x0 + w / 2).attr("y", y0 + h / 2).attr("dy", "0.35em")
    .attr("text-anchor", "middle").attr("fill", "#333")
    .attr("textLength", w - 4).attr("lengthAdjust", "spacingAndGlyphs")
    .style("font-size", "13px").style("font-family", '"DejaVu Sans", sans-serif').text(label);
}

// ---- price panel
const price = panels.price;
drawGrid(price, priceTicks);
drawMonthGrid(price);
price.g.append("path")
  .attr("d", lineFor(price)(bbUpper.concat(bbLower.slice().reverse())) + "Z")
  .attr("fill", colors.band);

const bars = d3.range(opens.length);
price.g.selectAll(".wick").data(bars).enter().append("line")
  .attr("class", "wick")
  .attr("x1", d => x(d)).attr("x2", d => x(d))
  .attr("y1", d => price.y(highs[d])).attr("y2", d => price.y(lows[d]))
  .attr("stroke", d => closes[d] >= opens[d] ? colors.up : colors.down)
  .attr("stroke-width", 2);
price.g.selectAll(".body").data(bars).enter().append("rect")
  .attr("class", "body")
  .attr("x", d => x(d) - 6).attr("width", 12)
  .attr("y", d => price.y(Math.max(opens[d], closes[d])))
  .attr("height", d => Math.max(3, Math.abs(price.y(opens[d]) - price.y(closes[d]))))
  .attr("fill", d => closes[d] >= opens[d] ? colors.up : colors.down);

drawLine(price, bbUpper, colors.bbUpper, 1.8);
drawLine(price, bbLower, colors.bbLower, 1.8);
drawLine(price, ma120, colors.ma120, 2);
drawLine(price, ma60, colors.ma60, 2);
drawLine(price, bbMiddle, colors.bbMiddle, 1.8);
drawLine(price, ma5, colors.ma5, 1.5);

// ---- volume panel
const vol = panels.volume;
drawGrid(vol, volumeTicks.slice(1));
drawMonthGrid(vol);
vol.g.selectAll(".vol").data(bars).enter().append("rect")
  .attr("class", "vol")
  .attr("x", d => x(d) - 6).attr("width", 12)
  .attr("y", d => vol.y(volumes[d]))
  .attr("height", d => vol.y(0) - vol.y(volumes[d]))
  .attr("fill", d => volumeMoves[d] > 0 ? colors.up : (volumeMoves[d] < 0 ? colors.down : colors.flat));

// ---- MACD panel
const mp = panels.macd;
drawGrid(mp, macdTicks.filter(d => d !== 0));
drawMonthGrid(mp);
diffFill("macd", macd, macdSignal);
levelLine(mp, 0, colors.magenta);
drawLine(mp, macd, colors.orange, 1.6);
drawLine(mp, macdSignal, colors.blue, 2);

// ---- RSI panel
const rp = panels.rsi;
drawGrid(rp, rsiTicks.filter(d => d !== 30 && d !== 70));
drawMonthGrid(rp);
diffFill("rsi", rsi, rsiSignal);
// blue wedge: signal under the 30 level, drawn behind the pink part
rp.g.insert("g", "g").attr("clip-path", "url(#rsi-above)")
  .append("rect").attr("x", 8).attr("width", plotRight - 8)
  .attr("y", rp.y(30)).attr("height", rp.bottom - rp.y(30))
  .attr("fill", colors.wedge);
levelLine(rp, 70, colors.magenta);
levelLine(rp, 30, colors.magenta);
drawLine(rp, rsi, colors.orange, 1.6);
drawLine(rp, rsiSignal, colors.blue, 2);
svg.append("text").attr("x", 11).attr("y", 1287).attr("dy", "0.35em").attr("fill", "#f6bce0")
  .attr("textLength", 60).attr("lengthAdjust", "spacingAndGlyphs").style("font-size", "23px").text("70.00");
svg.append("text").attr("x", 11).attr("y", 1438).attr("dy", "0.35em").attr("fill", "#c0daf8")
  .attr("textLength", 60).attr("lengthAdjust", "spacingAndGlyphs").style("font-size", "23px").text("30.00");

// ---- DI panel
const dp = panels.di;
drawMonthGrid(dp);
diffFill("di", upDI, downDI);
levelLine(dp, 30, colors.magentaDark);
levelLine(dp, 10, colors.magentaDark);
drawLine(dp, upDI, colors.orange, 1.6);
drawLine(dp, downDI, colors.navy, 2);

// ---- value axes
const commaFormat = d3.format(",");
const startAt = px => function() { d3.select(this).attr("x", px - plotRight).attr("text-anchor", "start"); };
valueAxis(price, priceTicks, 2000, commaFormat, 25, startAt(2841));
valueAxis(vol, volumeTicks, 25000, commaFormat, 21, function(d) {
  d3.select(this).attr("x", 2924 - plotRight).attr("text-anchor", "end");
  // the zero label sits a little higher than its tick
  if (d === 0) d3.select(this).attr("dy", "0.0em");
});
valueAxis(mp, macdTicks, 500, d => d3.format(",.2f")(d).replace("\u2212", "-"), 23, function(d) {
  if (d < 0) d3.select(this).attr("x", 2853 - plotRight).attr("text-anchor", "start");
  else d3.select(this).attr("x", 2947 - plotRight).attr("text-anchor", "end");
});
valueAxis(rp, rsiTicks, 2, d3.format(".2f"), 23, startAt(2840));

// ---- panel separators
[515, 870, 1195, 1534].forEach(function(yy) {
  svg.append("rect").attr("x", 5).attr("y", yy - 2).attr("width", 2946).attr("height", 1).attr("fill", "#b5b5b5");
  svg.append("rect").attr("x", 5).attr("y", yy - 1).attr("width", 2946).attr("height", 2).attr("fill", "#444");
});
svg.append("line").attr("x1", plotRight).attr("x2", plotRight).attr("y1", 6).attr("y2", 1902)
  .attr("stroke", "#c4c4c4").attr("stroke-width", 2);

// ---- time axis
svg.append("rect").attr("x", 5).attr("y", 1871).attr("width", 2946).attr("height", 2).attr("fill", "#cfcfcf");
const timeAxis = svg.append("g").attr("transform", "translate(0,1873)")
  .call(d3.axisBottom(timeX).tickValues(monthBars).tickSize(10).tickFormat((d, i) => monthLabels[i]))
  .call(g => g.select(".domain").remove())
  .call(g => g.selectAll("line").attr("stroke", "#c8c8c8").attr("stroke-width", 1.5));
timeAxis.selectAll("text")
  .attr("text-anchor", "start").attr("x", 2).attr("y", 15).attr("dy", "0.35em")
  .attr("fill", "#333").style("font-family", '"Noto Sans", sans-serif').style("font-size", "23px").style("font-weight", 500)
  .attr("lengthAdjust", "spacingAndGlyphs")
  .attr("textLength", function() { return this.textContent.length * 12.6; });
svg.append("text").attr("x", 2840).attr("y", 1888).attr("dy", "0.35em").attr("fill", "#555")
  .attr("textLength", 58).attr("lengthAdjust", "spacingAndGlyphs")
  .style("font-family", '"Noto Sans", sans-serif').style("font-size", "23px").text("11/04");

// ---- legends
svg.append("rect").attr("x", 19).attr("y", 17).attr("width", 4).attr("height", 14).attr("fill", "#333");
svg.append("rect").attr("x", 27).attr("y", 23).attr("width", 10).attr("height", 2).attr("fill", "#333");
svg.append("rect").attr("x", 31).attr("y", 19).attr("width", 2).attr("height", 10).attr("fill", "#333");
legend(41, 166, 24, null, "녹십자(통)", "#333", 500);
legend(190, 413, 24, "#6aa32a", "가격이평 5(130,620)", "#6aa32a");
legend(434, 563, 24, "#e01020", "20(130,410)", "#e01020");
legend(584, 712, 24, "#26269a", "60(132,573)", "#26269a");
legend(733, 875, 24, "#f5a030", "120(132,830)", "#f5a030");
legend(896, 1205, 24, "#e8408c", "BB_상한선(20,2,c)(133,340)", "#e8408c");
legend(1226, 1440, 24, "#2e9c5a", "BB_중심선(130,410)", "#2e9c5a");
legend(1460, 1673, 24, "#9c9cf0", "BB_하한선(127,480)", "#9c9cf0");

legend(27, 96, 534, "#444", "거래량", "#444");
legend(27, 287, 889, "#ee7f45", "MACD(12,26,9)(-485.43)", "#ee7f45");
legend(310, 486, 889, "#4a78e0", "Signal(-711.66)", "#4a78e0");
legend(27, 217, 1214, "#ee7f45", "RSI(14,9)(53.88)", "#ee7f45");
legend(238, 390, 1214, "#4a78e0", "Signal(50.08)", "#4a78e0");
legend(27, 204, 1553, "#ee7f45", "UpDI(14)(26.49)", "#ee7f45");
legend(225, 378, 1553, "#4a4a9e", "DownDI(13.13)", "#4a4a9e");

// badge on the price panel
svg.append("rect").attr("x", 13).attr("y", 33).attr("width", 27).attr("height", 24).attr("fill", "#5f82aa");
svg.append("text").attr("x", 26.5).attr("y", 45).attr("dy", "0.35em").attr("text-anchor", "middle")
  .attr("fill", "#fff").style("font-size", "18px").text("호");

// panel buttons
smallButton(2826, 8, 42, 12, "LIR");
smallButton(2936, 8, 15, 12, "□");
[517, 872, 1197, 1536].forEach(function(yy) {
  smallButton(2826, yy, 29, 12, "LI");
  smallButton(2924, yy, 27, 12, "□X");
});
svg.append("rect").attr("x", 2806).attr("y", 0).attr("width", 28).attr("height", 3).attr("fill", "#fff").attr("stroke", "#999");
svg.append("rect").attr("x", 2838).attr("y", 0).attr("width", 47).attr("height", 3).attr("fill", "#e05060");
svg.append("rect").attr("x", 2887).attr("y", 0).attr("width", 46).attr("height", 3).attr("fill", "#1a7fc0");

// bottom bar, with the toolbar icons cut off by the window edge
svg.append("rect").attr("x", 5).attr("y", 1902).attr("width", 2946).attr("height", 10).attr("fill", "#ececec");
svg.append("rect").attr("x", 5).attr("y", 1902).attr("width", 2946).attr("height", 1).attr("fill", "#c4c4c4");
svg.append("rect").attr("x", 1273).attr("y", 1904).attr("width", 1234).attr("height", 8).attr("fill", "#f6f6f6");
svg.append("rect").attr("x", 2508).attr("y", 1904).attr("width", 1.5).attr("height", 8).attr("fill", "#555");
svg.append("rect").attr("x", 2534).attr("y", 1904).attr("width", 106).attr("height", 8).attr("fill", "#fff");
svg.append("rect").attr("x", 2541).attr("y", 1908).attr("width", 90).attr("height", 1.5).attr("fill", "#666");
svg.append("rect").attr("x", 2584).attr("y", 1905).attr("width", 6).attr("height", 7).attr("fill", "#fff").attr("stroke", "#555");
[2652, 2676].forEach(function(cx) {
  svg.append("circle").attr("cx", cx).attr("cy", 1916).attr("r", 10).attr("fill", "#fff").attr("stroke", "#555").attr("stroke-width", 1.5);
});
[2700, 2724, 2750, 2772, 2795].forEach(function(px) {
  svg.append("rect").attr("x", px).attr("y", 1907).attr("width", 3).attr("height", 5).attr("fill", "#555");
});
svg.append("rect").attr("x", 2815).attr("y", 1906).attr("width", 12).attr("height", 6).attr("fill", "#fff").attr("stroke", "#555");
svg.append("rect").attr("x", 2836).attr("y", 1905).attr("width", 12).attr("height", 7).attr("fill", "#fff").attr("stroke", "#222");
svg.append("rect").attr("x", 2860).attr("y", 1908).attr("width", 14).attr("height", 4).attr("fill", "#222");
svg.append("rect").attr("x", 2886).attr("y", 1906).attr("width", 12).attr("height", 6).attr("fill", "#fff").attr("stroke", "#a33");
svg.append("rect").attr("x", 2910).attr("y", 1905).attr("width", 12).attr("height", 7).attr("fill", "#f2c94c");
svg.append("rect").attr("x", 2932).attr("y", 1906).attr("width", 12).attr("height", 6).attr("fill", "none").attr("stroke", "#333");
</script>
</body>
</html>
